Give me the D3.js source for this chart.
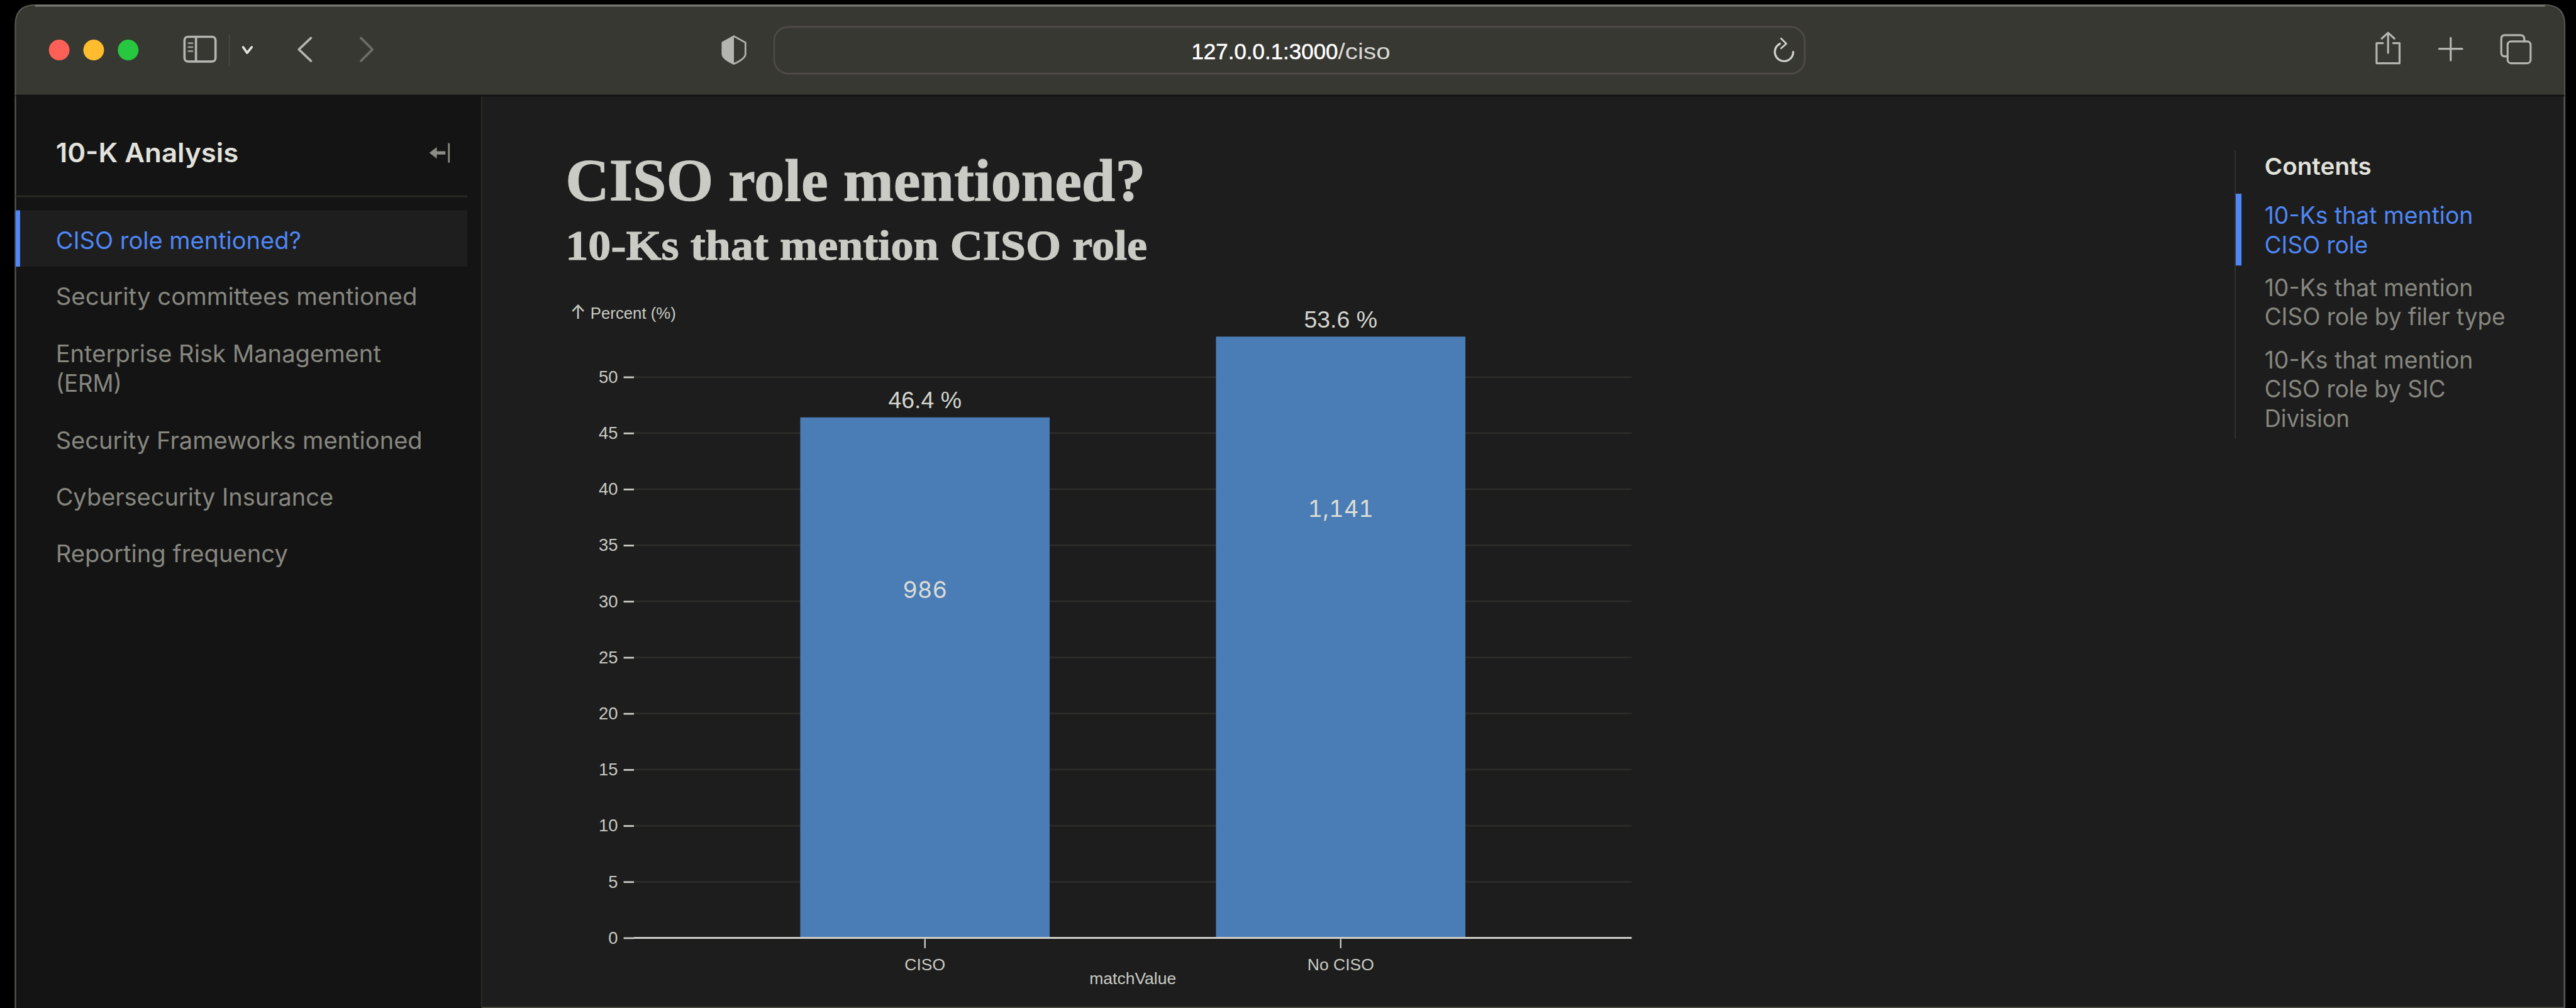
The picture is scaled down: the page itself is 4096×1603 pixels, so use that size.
<!DOCTYPE html>
<html>
<head>
<meta charset="utf-8">
<title>10-K Analysis</title>
<script src="https://cdn.jsdelivr.net/npm/d3@7"></script>
<style>
  html, body { margin: 0; padding: 0; background: #000; overflow: hidden; }
  svg { display: block; }
</style>
</head>
<body>
<div id="app"></div>
<script>
// Chart values
const categories = ["CISO", "No CISO"];
const percentValues = [46.4, 53.6];
const countValues = [986, 1141];
const percentTicks = [0, 5, 10, 15, 20, 25, 30, 35, 40, 45, 50];

// Page text
const sidebarTitle = "10-K Analysis";
const navItems = [
  { lines: ["CISO role mentioned?"], y: [433], w: [427], active: true },
  { lines: ["Security committees mentioned"], y: [531], w: [629] },
  { lines: ["Enterprise Risk Management", "(ERM)"], y: [630, 682], w: [566, 115] },
  { lines: ["Security Frameworks mentioned"], y: [781], w: [638] },
  { lines: ["Cybersecurity Insurance"], y: [880], w: [483] },
  { lines: ["Reporting frequency"], y: [978], w: [404] }
];
const tocItems = [
  { lines: ["10-Ks that mention", "CISO role"], y: [390, 441], w: [363, 180], active: true },
  { lines: ["10-Ks that mention", "CISO role by filer type"], y: [515, 566], w: [363, 419] },
  { lines: ["10-Ks that mention", "CISO role by SIC", "Division"], y: [641, 692, 743], w: [363, 315, 148] }
];

const W = 4482, H = 1754;
const SANS = "Inter, 'Noto Sans', sans-serif";
const PLOT = "'Liberation Sans', Arial, sans-serif";
const SERIF = "'Liberation Serif', serif";
const BLUE = "#4f87f6", MUTED = "#878780", INK = "#c9cbc4", BAR = "#4a7db5";

const svg = d3.select("#app").append("svg")
  .attr("width", 4096).attr("height", 1603)
  .attr("viewBox", `0 0 ${W} ${H}`);

svg.append("rect").attr("width", W).attr("height", H).attr("fill", "#000");

function label(parent, str, x, y, size, opts = {}) {
  const t = parent.append("text")
    .attr("x", x).attr("y", y)
    .attr("font-family", opts.family || SANS)
    .attr("font-size", size)
    .attr("font-weight", opts.weight || 400)
    .attr("fill", opts.fill || INK)
    .attr("text-anchor", opts.anchor || "start")
    .text(str);
  if (opts.width) t.attr("textLength", opts.width).attr("lengthAdjust", "spacingAndGlyphs");
  return t;
}

// ---- Browser window shell ----
const shell = svg.append("g");
const winL = 27, winR = 4462, winT = 9, barB = 165, rad = 34;
shell.append("path")
  .attr("d", `M${winL},${H}V${winT + rad}Q${winL},${winT} ${winL + rad},${winT}H${winR - rad}Q${winR},${winT} ${winR},${winT + rad}V${H}Z`)
  .attr("fill", "#1d1d1d").attr("stroke", "#55554f").attr("stroke-width", 3);
shell.append("path")
  .attr("d", `M${winL + 1},${barB}V${winT + rad}Q${winL + 1},${winT + 2} ${winL + rad},${winT + 2}H${winR - rad}Q${winR - 1},${winT + 2} ${winR - 1},${winT + rad}V${barB}Z`)
  .attr("fill", "#383832");
shell.append("path")
  .attr("d", `M${winL + rad},${winT + 1}H${winR - rad}`)
  .attr("stroke", "#7a7a76").attr("stroke-width", 3);
shell.append("rect").attr("x", winL).attr("y", barB).attr("width", winR - winL).attr("height", 3).attr("fill", "#121212");

// Traffic lights
[[103, "#fe5f57"], [163, "#febc2e"], [223, "#27c840"]].forEach(([cx, c]) =>
  shell.append("circle").attr("cx", cx).attr("cy", 87).attr("r", 18).attr("fill", c));

const icon = { fill: "none", stroke: "#b4b4b0", "stroke-width": 4, "stroke-linecap": "round", "stroke-linejoin": "round" };
function glyph(d, extra = {}) {
  const p = shell.append("path").attr("d", d);
  Object.entries({ ...icon, ...extra }).forEach(([k, v]) => p.attr(k, v));
  return p;
}

// Sidebar toggle, chevrons
shell.append("rect").attr("x", 321).attr("y", 64).attr("width", 54).attr("height", 43).attr("rx", 6)
  .attr("fill", "none").attr("stroke", "#b4b4b0").attr("stroke-width", 4);
glyph("M341,65V106");
glyph("M328,75H335M328,82H335M328,89H335", { "stroke-width": 3, stroke: "#9a9a96" });
shell.append("rect").attr("x", 398).attr("y", 60).attr("width", 2).attr("height", 55).attr("fill", "#4a4a45");
glyph("M423,82L430,92L438,82", { stroke: "#e4e4e0", "stroke-width": 4 });
glyph("M541,66L520,86L541,106", { "stroke-width": 4 });
glyph("M628,66L648,86L628,106", { stroke: "#6c6c68", "stroke-width": 4 });

// Shield
glyph("M1277,63L1297,74V94Q1297,102 1277,111Q1257,102 1257,94V74Z", { "stroke-width": 3 });
shell.append("path").attr("d", "M1277,63L1257,74V94Q1257,102 1277,111Z").attr("fill", "#b4b4b0");

// Address field
shell.append("rect").attr("x", 1347).attr("y", 47).attr("width", 1793).attr("height", 81).attr("rx", 24)
  .attr("fill", "#383832").attr("stroke", "#4e4a48").attr("stroke-width", 3);
label(shell, "127.0.0.1:3000", 2073, 103, 39, { family: PLOT, fill: "#fff", width: 255 }).attr("stroke", "#fff").attr("stroke-width", 0.6);
label(shell, "/ciso", 2073 + 255, 103, 39, { family: PLOT, fill: "#d8d8d4", width: 91 });

// Reload arrow
glyph("M3097,76A16,16 0 1,0 3120,90", { stroke: "#d0d0cc", "stroke-width": 3.5 });
glyph("M3099,67L3108,76L3099,84", { stroke: "#d0d0cc", "stroke-width": 3 });

// Share, new tab, tab overview
glyph("M4146,75H4135V110H4175V75H4164", { "stroke-width": 3.5 });
glyph("M4155,58V92M4144,67L4155,57L4166,67", { "stroke-width": 3.5 });
glyph("M4264,66V105M4244,85H4284", { "stroke-width": 3.5 });
shell.append("rect").attr("x", 4363).attr("y", 72).attr("width", 40).attr("height", 38).attr("rx", 6)
  .attr("fill", "none").attr("stroke", "#b4b4b0").attr("stroke-width", 3.5);
glyph("M4363,98H4358Q4352,98 4352,92V68Q4352,61 4358,61H4385Q4392,61 4392,68V72", { "stroke-width": 3.5 });

// ---- Sidebar ----
const side = svg.append("g");
side.append("rect").attr("x", winL + 1).attr("y", barB + 3).attr("width", 810).attr("height", H - barB).attr("fill", "#141414");
side.append("rect").attr("x", 837).attr("y", barB + 3).attr("width", 2).attr("height", H - barB).attr("fill", "#2c2c29");
label(side, sidebarTitle, 97, 282, 46, { weight: 600, fill: "#e2e2dc", width: 318 });

// Collapse control
side.append("path").attr("d", "M781,249V283").attr("stroke", "#8c8c86").attr("stroke-width", 3).attr("fill", "none");
side.append("path").attr("d", "M747,266L760,256V263H775V269H760V276Z").attr("fill", "#8c8c86");

side.append("rect").attr("x", winL).attr("y", 340).attr("width", 786).attr("height", 3).attr("fill", "#2b2b27");
side.append("rect").attr("x", winL).attr("y", 366).attr("width", 786).attr("height", 98).attr("fill", "#1e1e1e");
side.append("rect").attr("x", winL).attr("y", 366).attr("width", 8).attr("height", 98).attr("fill", BLUE);

navItems.forEach(item => item.lines.forEach((line, i) =>
  label(side, line, 97, item.y[i], 41, { fill: item.active ? BLUE : MUTED, width: item.w[i] })));

// ---- Headings ----
const head = svg.append("g").attr("stroke", INK).attr("stroke-width", 1.2);
label(head, "CISO role mentioned?", 984, 349, 105, { family: SERIF, weight: 700, fill: INK, width: 1009 });
label(head, "10-Ks that mention CISO role", 984, 452, 74, { family: SERIF, weight: 700, fill: INK, width: 1012 });

// ---- Table of contents ----
const toc = svg.append("g");
toc.append("rect").attr("x", 3888).attr("y", 262).attr("width", 2).attr("height", 502).attr("fill", "#33332f");
toc.append("rect").attr("x", 3890).attr("y", 337).attr("width", 10).attr("height", 125).attr("fill", BLUE);
label(toc, "Contents", 3940, 304, 41, { weight: 600, fill: "#e2e2dc", width: 186 });
tocItems.forEach(item => item.lines.forEach((line, i) =>
  label(toc, line, 3940, item.y[i], 41, { fill: item.active ? BLUE : MUTED, width: item.w[i] })));

// ---- Bar chart ----
const plotL = 1103, plotR = 2839, plotB = 1632, plotT = 656;
const x = d3.scaleBand().domain(categories).range([plotL, plotR]).padding(0.4);
const y = d3.scaleLinear().domain([0, 50]).range([plotB, plotT]);
const rows = categories.map((c, i) => ({ c, pct: percentValues[i], n: countValues[i] }));

const chart = svg.append("g");

// Horizontal grid
chart.append("g").selectAll("line").data(percentTicks.filter(d => d > 0)).join("line")
  .attr("x1", plotL).attr("x2", plotR)
  .attr("y1", d => y(d)).attr("y2", d => y(d))
  .attr("stroke", "#2c2c2a").attr("stroke-width", 3);

// Bars
chart.append("g").selectAll("rect").data(rows).join("rect")
  .attr("x", d => x(d.c)).attr("width", x.bandwidth())
  .attr("y", d => y(d.pct)).attr("height", d => y(0) - y(d.pct))
  .attr("fill", BAR);

// Zero rule
chart.append("line").attr("x1", plotL).attr("x2", plotR)
  .attr("y1", y(0)).attr("y2", y(0))
  .attr("stroke", "#cfcfc9").attr("stroke-width", 3.5);

// Value axis
const yAxis = chart.append("g").attr("transform", `translate(${plotL},0)`)
  .call(d3.axisLeft(y).tickValues(percentTicks).tickSize(18).tickPadding(10));
yAxis.select(".domain").remove();
yAxis.selectAll("line").attr("stroke", "#cfcfc9").attr("stroke-width", 3);
yAxis.selectAll("text").attr("font-family", PLOT).attr("font-size", 30).attr("fill", INK);

// Category axis
const xAxis = chart.append("g").attr("transform", `translate(0,${plotB + 2})`)
  .call(d3.axisBottom(x).tickSize(16).tickPadding(18));
xAxis.select(".domain").remove();
xAxis.selectAll("line").attr("stroke", "#cfcfc9").attr("stroke-width", 2.5);
xAxis.selectAll("text").attr("font-family", PLOT).attr("font-size", 29).attr("fill", INK);

// Axis titles
const yTitle = chart.append("text").attr("x", 992).attr("y", 555)
  .attr("font-family", PLOT).attr("font-size", 29).attr("fill", INK)
  .attr("textLength", 184).attr("lengthAdjust", "spacingAndGlyphs");
yTitle.append("tspan").attr("font-family", SANS).attr("font-size", 34).text("↑");
yTitle.append("tspan").text(" Percent (%)");
label(chart, "matchValue", (plotL + plotR) / 2, 1713, 29, { family: PLOT, anchor: "middle" });

// Value labels
chart.append("g").selectAll("text").data(rows).join("text")
  .attr("x", d => x(d.c) + x.bandwidth() / 2)
  .attr("y", d => y(d.pct) - 16)
  .attr("text-anchor", "middle")
  .attr("font-family", PLOT).attr("font-size", 41).attr("fill", "#d4d5cf")
  .text(d => `${d.pct} %`);

chart.append("g").selectAll("text").data(rows).join("text")
  .attr("x", d => x(d.c) + x.bandwidth() / 2)
  .attr("y", d => y(d.pct) + 314)
  .attr("text-anchor", "middle")
  .attr("font-family", SANS).attr("font-size", 40).attr("fill", "#dcdcd6")
  .style("font-feature-settings", "'tnum'")
  .text(d => d3.format(",")(d.n));
</script>
</body>
</html>
